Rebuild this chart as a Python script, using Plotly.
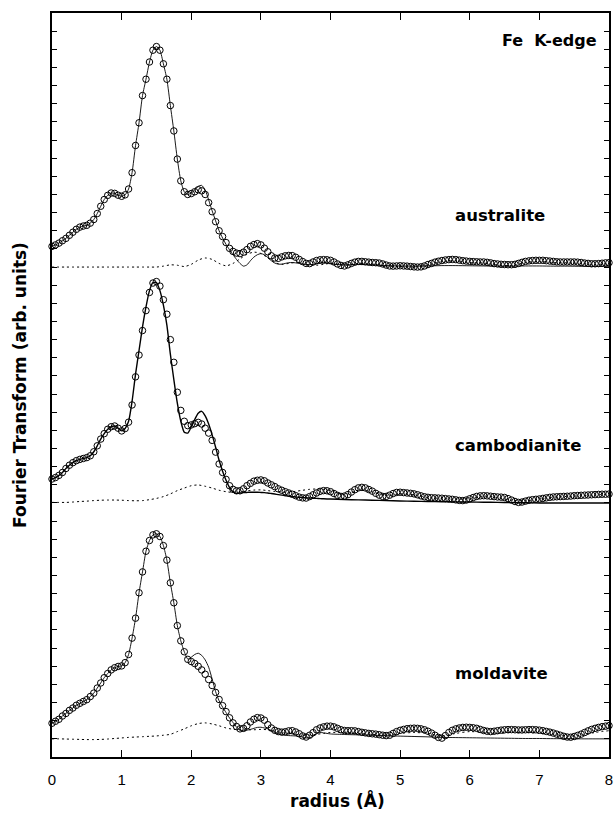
import numpy as np
import plotly.graph_objects as go

# ---------------- data ----------------
# x grid of the experimental points (radius, Angstrom)
R_DATA = np.round(np.arange(0, 8.0001, 0.05), 2)
# x grid of the fitted curves
R_FIT = list(np.round(np.arange(0, 4.0001, 0.05), 2)) + list(np.round(np.arange(4.2, 8.0001, 0.2), 2))
# x grid of the dotted curves
R_RES = list(np.round(np.arange(0, 4.0001, 0.1), 2)) + list(np.round(np.arange(4.2, 8.0001, 0.2), 2))

SAMPLES = ["australite", "cambodianite", "moldavite"]
OFFSETS = [27, 14, 1]           # vertical shift of each curve (arb. units)

aus_data = [1.14, 1.22, 1.32, 1.45, 1.58, 1.75, 1.92, 2.08, 2.20, 2.26, 2.30, 2.42, 2.62, 2.95, 3.35, 3.72, 3.95, 4.08, 4.06, 3.96,
            3.90, 3.98, 4.30, 5.20, 6.70, 7.95, 9.45, 10.35, 11.30, 11.95, 12.15, 11.95, 11.20, 10.35, 8.90, 7.50, 5.95, 4.75, 4.15, 4.00,
            4.05, 4.15, 4.26, 4.20, 4.00, 3.55, 3.05, 2.50, 2.00, 1.68, 1.35, 1.03, 0.86, 0.77, 0.74, 0.82, 0.96, 1.14, 1.24, 1.29,
            1.22, 1.04, 0.84, 0.62, 0.50, 0.48, 0.56, 0.62, 0.64, 0.63, 0.54, 0.42, 0.30, 0.20, 0.19, 0.28, 0.36, 0.40, 0.41, 0.40,
            0.37, 0.28, 0.17, 0.09, 0.06, 0.12, 0.20, 0.27, 0.31, 0.31, 0.29, 0.27, 0.25, 0.24, 0.22, 0.17, 0.11, 0.06, 0.05, 0.06,
            0.07, 0.06, 0.05, 0.03, 0.01, 0.00, 0.01, 0.06, 0.14, 0.20, 0.27, 0.32, 0.36, 0.39, 0.41, 0.42, 0.41, 0.38, 0.35, 0.33,
            0.31, 0.30, 0.29, 0.28, 0.28, 0.26, 0.23, 0.19, 0.17, 0.15, 0.14, 0.13, 0.13, 0.15, 0.20, 0.26, 0.31, 0.34, 0.36, 0.37,
            0.37, 0.37, 0.35, 0.33, 0.31, 0.29, 0.28, 0.28, 0.28, 0.28, 0.28, 0.27, 0.25, 0.22, 0.20, 0.18, 0.18, 0.19, 0.21, 0.23,
            0.24]
aus_fit = [1.14, 1.22, 1.32, 1.45, 1.58, 1.75, 1.92, 2.08, 2.20, 2.26, 2.30, 2.42, 2.62, 2.95, 3.35, 3.72, 3.95, 4.08, 4.06, 3.96,
           3.90, 3.98, 4.30, 5.20, 6.70, 7.95, 9.45, 10.35, 11.30, 11.95, 12.15, 11.95, 11.20, 10.35, 8.90, 7.50, 5.95, 4.75, 4.15, 4.00,
           4.08, 4.25, 4.45, 4.50, 4.25, 3.70, 3.10, 2.55, 2.00, 1.60, 1.25, 0.95, 0.68, 0.42, 0.20, 0.05, 0.12, 0.35, 0.55, 0.68,
           0.74, 0.68, 0.52, 0.35, 0.22, 0.16, 0.16, 0.20, 0.24, 0.25, 0.23, 0.20, 0.16, 0.13, 0.13, 0.15, 0.18, 0.20, 0.21, 0.20,
           0.18,
           0.12, 0.14, 0.12, 0.08, 0.06, 0.05, 0.06, 0.08, 0.08, 0.07, 0.06, 0.05, 0.05, 0.06, 0.06, 0.05, 0.05, 0.04, 0.04, 0.04]
aus_res = [0, 0, 0, 0, 0, 0, 0, 0, 0, 0,
           0, 0, 0, 0, 0, 0, 0.05, 0.12, 0.10, 0.03,
           0.15, 0.38, 0.50, 0.42, 0.20, 0.07, 0.20, 0.45, 0.70, 0.82,
           0.75, 0.50, 0.25, 0.15, 0.20, 0.25, 0.20, 0.12, 0.10, 0.15,
           0.20,
           0.10, 0.20, 0.15, 0.05, 0.03, 0.00, 0.12, 0.30, 0.35, 0.25, 0.22, 0.12, 0.08, 0.25, 0.32, 0.25, 0.23, 0.20, 0.14, 0.20]

cam_data = [1.32, 1.40, 1.52, 1.68, 1.90, 2.08, 2.22, 2.33, 2.40, 2.45, 2.50, 2.60, 2.82, 3.15, 3.52, 3.82, 4.06, 4.20, 4.24, 4.12,
            3.97, 4.10, 4.45, 5.40, 6.95, 8.15, 9.50, 10.60, 11.60, 12.12, 12.20, 11.95, 11.20, 10.40, 9.00, 7.75, 6.10, 5.10, 4.50, 4.26,
            4.30, 4.37, 4.44, 4.35, 4.12, 3.85, 3.45, 2.80, 2.15, 1.68, 1.30, 0.95, 0.75, 0.67, 0.67, 0.78, 0.95, 1.08, 1.20, 1.25,
            1.27, 1.22, 1.10, 1.00, 0.90, 0.78, 0.70, 0.62, 0.55, 0.48, 0.40, 0.32, 0.28, 0.27, 0.35, 0.45, 0.55, 0.64, 0.68, 0.67,
            0.62, 0.52, 0.42, 0.36, 0.38, 0.46, 0.60, 0.73, 0.83, 0.86, 0.83, 0.74, 0.65, 0.53, 0.43, 0.36, 0.36, 0.43, 0.52, 0.58,
            0.59, 0.57, 0.55, 0.53, 0.50, 0.45, 0.39, 0.34, 0.31, 0.29, 0.28, 0.27, 0.26, 0.24, 0.22, 0.20, 0.17, 0.14, 0.13, 0.16,
            0.23, 0.30, 0.36, 0.39, 0.40, 0.39, 0.37, 0.35, 0.33, 0.32, 0.30, 0.24, 0.16, 0.08, 0.03, 0.05, 0.10, 0.15, 0.18, 0.20,
            0.22, 0.25, 0.28, 0.31, 0.33, 0.34, 0.35, 0.36, 0.37, 0.38, 0.40, 0.41, 0.42, 0.43, 0.44, 0.45, 0.46, 0.47, 0.48, 0.48,
            0.49]
cam_fit = [1.32, 1.40, 1.52, 1.68, 1.90, 2.08, 2.22, 2.33, 2.40, 2.45, 2.50, 2.60, 2.82, 3.15, 3.52, 3.82, 4.06, 4.20, 4.24, 4.12,
           3.97, 4.10, 4.50, 5.60, 7.10, 8.40, 9.70, 10.80, 11.70, 12.15, 12.15, 11.70, 10.90, 9.80, 8.20, 6.80, 5.50, 4.50, 3.90, 3.85,
           4.20, 4.60, 4.95, 5.05, 4.80, 4.35, 3.75, 3.07, 2.35, 1.75, 1.25, 0.85, 0.62, 0.53, 0.55, 0.57, 0.58, 0.59, 0.59, 0.59,
           0.58, 0.57, 0.55, 0.52, 0.49, 0.46, 0.43, 0.40, 0.37, 0.35, 0.33, 0.31, 0.30, 0.28, 0.27, 0.26, 0.25, 0.24, 0.23, 0.22,
           0.22,
           0.19, 0.17, 0.15, 0.13, 0.11, 0.09, 0.08, 0.07, 0.06, 0.05, 0.04, 0.03, 0.02, 0.01, 0.00, 0.00, 0.00, 0.00, 0.00, 0.00]
cam_res = [0.03, 0.03, 0.03, 0.05, 0.08, 0.10, 0.13, 0.15, 0.16, 0.16,
           0.15, 0.13, 0.12, 0.13, 0.18, 0.25, 0.35, 0.50, 0.68, 0.82,
           0.95, 0.99, 0.92, 0.82, 0.70, 0.62, 0.58, 0.60, 0.66, 0.71,
           0.72, 0.68, 0.63, 0.60, 0.60, 0.64, 0.70, 0.75, 0.77, 0.75,
           0.68,
           0.45, 0.70, 0.60, 0.40, 0.50, 0.45, 0.30, 0.25, 0.20, 0.25, 0.38, 0.30, 0.15, 0.12, 0.22, 0.32, 0.36, 0.40, 0.45, 0.48]

mol_data = [0.86, 0.97, 1.08, 1.26, 1.40, 1.57, 1.70, 1.85, 1.96, 2.06, 2.16, 2.33, 2.52, 2.80, 3.08, 3.37, 3.60, 3.80, 3.92, 3.99,
            4.02, 4.20, 4.65, 5.55, 6.65, 8.05, 9.20, 10.34, 10.93, 11.24, 11.30, 11.15, 10.65, 9.85, 8.60, 7.50, 6.24, 5.40, 4.80, 4.38,
            4.26, 4.15, 4.00, 3.80, 3.56, 3.27, 2.94, 2.56, 2.17, 1.83, 1.50, 1.16, 0.88, 0.68, 0.55, 0.58, 0.72, 0.93, 1.08, 1.17,
            1.15, 1.03, 0.78, 0.60, 0.47, 0.40, 0.37, 0.39, 0.44, 0.45, 0.38, 0.28, 0.16, 0.10, 0.20, 0.34, 0.50, 0.60, 0.66, 0.70,
            0.70, 0.66, 0.58, 0.50, 0.46, 0.45, 0.45, 0.44, 0.40, 0.36, 0.33, 0.30, 0.28, 0.26, 0.23, 0.20, 0.18, 0.20, 0.30, 0.40,
            0.47, 0.52, 0.56, 0.58, 0.59, 0.58, 0.55, 0.50, 0.42, 0.32, 0.20, 0.08, 0.04, 0.18, 0.35, 0.47, 0.55, 0.60, 0.63, 0.64,
            0.63, 0.61, 0.58, 0.52, 0.46, 0.42, 0.40, 0.42, 0.45, 0.48, 0.50, 0.51, 0.51, 0.50, 0.49, 0.49, 0.50, 0.51, 0.51, 0.50,
            0.48, 0.45, 0.41, 0.37, 0.32, 0.26, 0.20, 0.14, 0.10, 0.09, 0.13, 0.19, 0.26, 0.35, 0.44, 0.52, 0.58, 0.63, 0.67, 0.70,
            0.73]
mol_fit = [0.86, 0.97, 1.08, 1.26, 1.40, 1.57, 1.70, 1.85, 1.96, 2.06, 2.16, 2.33, 2.52, 2.80, 3.08, 3.37, 3.60, 3.80, 3.92, 3.99,
           4.02, 4.20, 4.65, 5.55, 6.65, 8.05, 9.20, 10.34, 10.93, 11.24, 11.30, 11.15, 10.65, 9.85, 8.60, 7.50, 6.24, 5.40, 4.80, 4.40,
           4.50, 4.65, 4.72, 4.60, 4.35, 3.95, 3.30, 2.60, 2.10, 1.75, 1.45, 1.15, 0.90, 0.65, 0.48, 0.44, 0.48, 0.52, 0.58, 0.63,
           0.64, 0.60, 0.55, 0.45, 0.35, 0.28, 0.23, 0.20, 0.18, 0.17, 0.16, 0.14, 0.10, 0.05, 0.06, 0.15, 0.28, 0.35, 0.33, 0.30,
           0.27,
           0.24, 0.22, 0.20, 0.17, 0.15, 0.13, 0.11, 0.08, 0.07, 0.06, 0.05, 0.04, 0.03, 0.02, 0.02, 0.01, 0.01, 0.00, 0.00, 0.00]
mol_res = [0, 0, -0.01, -0.02, -0.03, -0.04, -0.04, -0.03, -0.01, 0.02,
           0.05, 0.08, 0.10, 0.12, 0.14, 0.16, 0.20, 0.25, 0.40, 0.55,
           0.72, 0.84, 0.88, 0.82, 0.72, 0.60, 0.53, 0.50, 0.50, 0.50,
           0.52, 0.50, 0.42, 0.35, 0.30, 0.25, 0.20, 0.20, 0.25, 0.30,
           0.35,
           0.35, 0.30, 0.25, 0.20, 0.30, 0.35, 0.30, 0.15, 0.30, 0.40, 0.35, 0.30, 0.35, 0.35, 0.30, 0.25, 0.15, 0.20, 0.35, 0.45]

DATA = [aus_data, cam_data, mol_data]
FIT = [aus_fit, cam_fit, mol_fit]
RES = [aus_res, cam_res, mol_res]
FIT_WIDTH = [0.9, 1.4, 0.9]

# label positions (x in Angstrom, y in plot units)
LABELS = [("australite", 6.43, 29.86), ("cambodianite", 6.70, 17.14), ("moldavite", 6.46, 4.60)]

# ---------------- figure ----------------
fig = go.Figure()
for i in range(3):
    off = OFFSETS[i]
    fig.add_trace(go.Scatter(x=R_RES, y=[v + off for v in RES[i]], mode="lines",
                             line=dict(color="black", width=1, dash="2px,3px", shape="spline", smoothing=0.8),
                             hoverinfo="skip"))
    fig.add_trace(go.Scatter(x=R_FIT, y=[v + off for v in FIT[i]], mode="lines",
                             line=dict(color="black", width=FIT_WIDTH[i], shape="spline", smoothing=0.6),
                             hoverinfo="skip"))
    fig.add_trace(go.Scatter(x=R_DATA, y=[v + off for v in DATA[i]], mode="markers",
                             marker=dict(symbol="circle-open", size=6.5, color="black", line=dict(width=1.0, color="black")),
                             cliponaxis=False, hoverinfo="skip"))

BOLD = "DejaVu Sans"
annotations = []
for name, lx, ly in LABELS:
    annotations.append(dict(x=lx, y=ly, xref="x", yref="y", text="<b>%s</b>" % name, showarrow=False,
                            font=dict(family=BOLD, size=16.5, color="black"), xanchor="center", yanchor="middle"))
annotations.append(dict(x=7.86, y=39.5, xref="x", yref="y", text="<b>Fe  K-edge</b>", showarrow=False,
                        font=dict(family=BOLD, size=16, color="black"), xanchor="right", yanchor="middle"))
annotations.append(dict(x=0.513, y=-0.058, xref="paper", yref="paper", text="<b>radius (Å)</b>", showarrow=False,
                        font=dict(family=BOLD, size=17, color="black"), xanchor="center", yanchor="middle"))
annotations.append(dict(x=-0.0575, y=0.5, xref="paper", yref="paper", text="<b>Fourier Transform (arb. units)</b>",
                        showarrow=False, textangle=-90,
                        font=dict(family=BOLD, size=17, color="black"), xanchor="center", yanchor="middle"))

fig.update_layout(
    width=616, height=814,
    margin=dict(l=52, r=3, t=13, b=57),
    plot_bgcolor="white", paper_bgcolor="white",
    showlegend=False,
    annotations=annotations,
    xaxis=dict(range=[0, 8], tickmode="linear", tick0=0, dtick=1, ticks="inside", ticklen=7, tickwidth=1.2,
               tickcolor="black", showline=True, linewidth=1.5, linecolor="black", mirror="ticks",
               showgrid=False, zeroline=False, ticklabelstandoff=8,
               tickfont=dict(family="Liberation Sans", size=15, color="black")),
    yaxis=dict(range=[0, 41], tickmode="linear", tick0=0, dtick=1, ticks="inside", ticklen=5, tickwidth=1.2,
               tickcolor="black", showline=True, linewidth=1.5, linecolor="black", mirror="ticks",
               showgrid=False, zeroline=False, showticklabels=False),
)

fig.write_html("out.html")
